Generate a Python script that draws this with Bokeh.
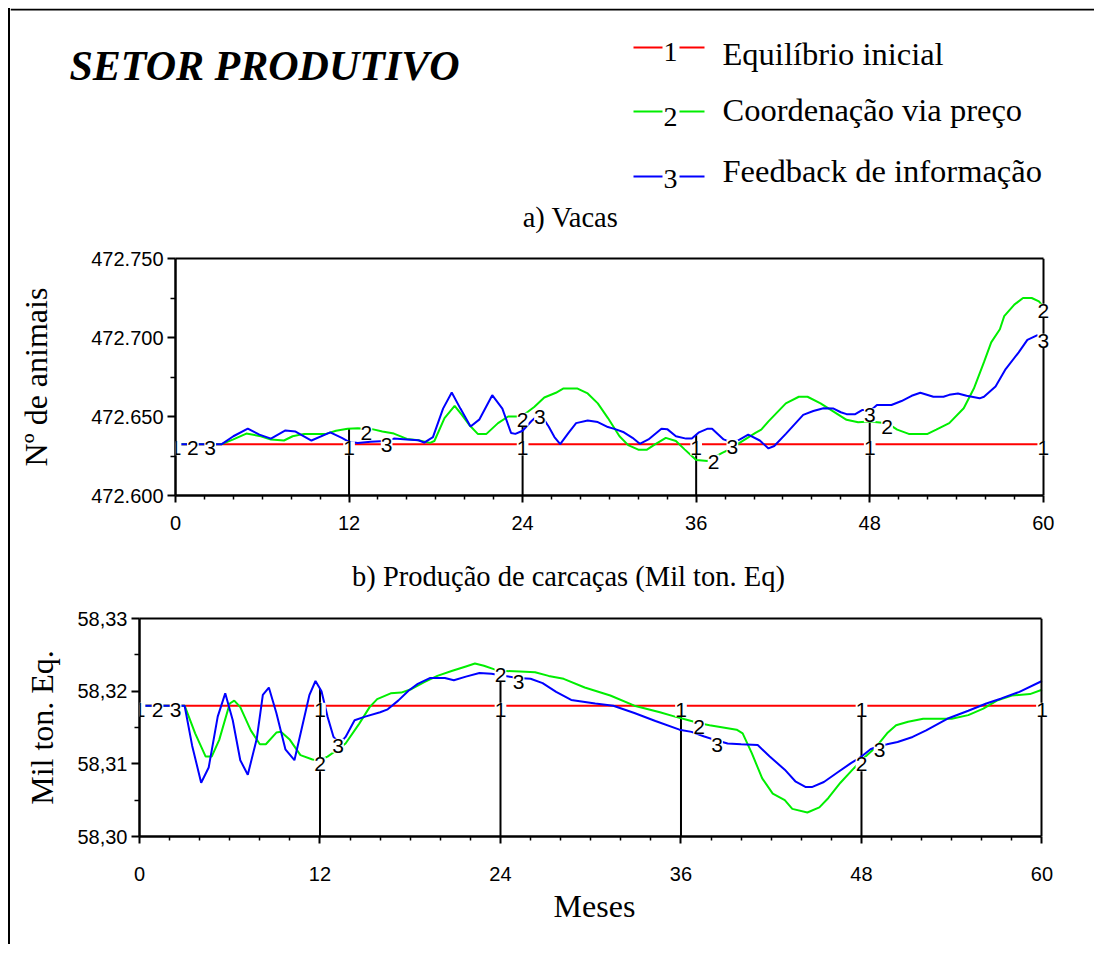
import numpy as np
from bokeh.plotting import figure
from bokeh.models import Range1d, FixedTicker, CustomJSTickFormatter, ColumnDataSource, LabelSet, LinearAxis
from bokeh.core.properties import value
from bokeh.embed import file_html
from bokeh.resources import INLINE

SERIF = "Liberation Serif"
SANS = "Liberation Sans"
RED, GREEN, BLUE = "#ff0000", "#00ee00", "#0000ff"

# ---------------- data ----------------
x_ticks = [0, 12, 24, 36, 48, 60]
x_minor = [2, 4, 6, 8, 10, 14, 16, 18, 20, 22, 26, 28, 30, 32, 34, 38, 40, 42, 44, 46, 50, 52, 54, 56, 58]
marker_months = [12, 24, 36, 48]

# a) Vacas (Nº de animais)
a_eq_x = [0, 60]
a_eq_y = [472.6325, 472.6325]
a_green_x = [0, 3.2, 4.0, 4.9, 5.9, 6.6, 7.5, 8.1, 8.9, 10.4, 11.1, 11.9, 12.6, 13.2, 13.6, 14.3, 15.1, 16.0,
             16.8, 17.6, 17.9, 18.6, 19.3, 19.8, 20.3, 20.9, 21.5, 22.3, 23.0, 23.6, 24.0, 24.8, 25.5, 26.3,
             26.8, 27.8, 28.5, 29.2, 29.9, 30.7, 31.3, 32.0, 32.6, 33.1, 33.9, 34.6, 35.2, 35.7, 36.0, 36.8,
             37.2, 37.8, 38.6, 39.0, 40.1, 40.5, 41.0, 42.2, 43.1, 43.7, 44.6, 45.5, 46.4, 47.2, 48.0, 49.2,
             49.9, 50.7, 52.0, 52.6, 53.5, 54.5, 55.2, 55.9, 56.4, 57.0, 57.3, 58.0, 58.6, 59.2, 59.7, 60.0]
a_green_y = [472.6325, 472.6325, 472.6355, 472.6392, 472.6375, 472.6354, 472.6348, 472.6375, 472.6390,
             472.6390, 472.6410, 472.6423, 472.6425, 472.6423, 472.6420, 472.6405, 472.6392, 472.6358,
             472.6350, 472.6333, 472.6345, 472.6490, 472.6567, 472.6510, 472.6448, 472.6390, 472.6390,
             472.6458, 472.6500, 472.6500, 472.6505, 472.6560, 472.6620, 472.6650, 472.6677, 472.6677,
             472.6646, 472.6583, 472.6490, 472.6375, 472.6319, 472.6290, 472.6290, 472.6320, 472.6365,
             472.6345, 472.6292, 472.6250, 472.6225, 472.6219, 472.6240, 472.6270, 472.6305, 472.6333,
             472.6396, 472.6417, 472.6469, 472.6583, 472.6625, 472.6625, 472.6583, 472.6531, 472.6479,
             472.6463, 472.6469, 472.6458, 472.6417, 472.6390, 472.6390, 472.6417, 472.6458, 472.6552,
             472.6677, 472.6844, 472.6969, 472.7052, 472.7135, 472.7208, 472.7250, 472.7250, 472.7229,
             472.7195]
a_blue_x = [0, 3.2, 4.0, 5.0, 5.8, 6.6, 7.6, 8.3, 9.4, 10.7, 11.5, 12.0, 12.6, 13.5, 14.5, 15.1, 16.0, 16.8,
            17.2, 17.8, 18.5, 19.1, 19.7, 20.4, 21.0, 21.9, 22.6, 23.2, 23.5, 24.0, 24.6, 25.2, 25.8, 26.2,
            26.6, 27.2, 27.7, 28.5, 29.2, 29.9, 30.4, 31.0, 31.6, 32.1, 32.7, 33.6, 34.0, 34.6, 35.3, 35.7,
            36.2, 36.8, 37.1, 37.9, 38.5, 39.0, 39.6, 40.4, 41.0, 41.4, 42.2, 43.4, 44.1, 44.8, 45.5, 46.0,
            46.4, 47.0, 47.5, 48.0, 48.5, 49.5, 50.2, 50.9, 51.5, 52.4, 53.1, 53.5, 54.1, 54.7, 55.6, 55.9,
            56.7, 57.4, 58.3, 58.9, 59.6, 60.0]
a_blue_y = [472.6325, 472.6325, 472.6375, 472.6423, 472.6385, 472.6360, 472.6412, 472.6405, 472.6348,
            472.6400, 472.6365, 472.6340, 472.6333, 472.6340, 472.6345, 472.6360, 472.6355, 472.6350,
            472.6335, 472.6370, 472.6550, 472.6652, 472.6550, 472.6437, 472.6480, 472.6635, 472.6550,
            472.6396, 472.6390, 472.6410, 472.6470, 472.6520, 472.6437, 472.6370, 472.6325, 472.6400,
            472.6458, 472.6475, 472.6465, 472.6433, 472.6420, 472.6400, 472.6365, 472.6327, 472.6355,
            472.6423, 472.6420, 472.6375, 472.6360, 472.6360, 472.6400, 472.6423, 472.6423, 472.6355,
            472.6335, 472.6354, 472.6385, 472.6348, 472.6298, 472.6313, 472.6390, 472.6510, 472.6535,
            472.6552, 472.6550, 472.6527, 472.6515, 472.6515, 472.6542, 472.6533, 472.6573, 472.6573,
            472.6598, 472.6631, 472.6650, 472.6625, 472.6625, 472.6637, 472.6646, 472.6631, 472.6615,
            472.6625, 472.6690, 472.6800, 472.6906, 472.6985, 472.7015, 472.7005]
a_lab1 = [0, 12, 24, 36, 48, 60]
a_lab2 = [1.2, 13.2, 24.0, 37.2, 49.2, 60]
a_lab3 = [2.4, 14.6, 25.2, 38.5, 48.0, 60]
a_yticks = [472.600, 472.650, 472.700, 472.750]
a_yminor = [472.625, 472.675, 472.725]

# b) Produção de carcaças (Mil ton. Eq)
b_eq_x = [0, 60]
b_eq_y = [58.318, 58.318]
b_green_x = [0, 3.0, 3.7, 4.4, 4.8, 5.3, 6.0, 6.3, 6.7, 7.4, 8.0, 8.4, 9.1, 9.4, 10.0, 10.7, 11.5, 12.0, 12.5,
             13.2, 13.7, 14.6, 15.3, 15.8, 16.7, 17.4, 18.1, 18.9, 19.8, 20.8, 21.7, 22.3, 22.9, 23.6, 24.0,
             25.3, 26.3, 27.2, 28.2, 29.6, 31.3, 32.9, 34.6, 35.6, 36.5, 37.2, 37.9, 38.8, 39.7, 40.1, 40.7,
             41.4, 42.1, 42.9, 43.4, 44.4, 45.2, 45.8, 46.6, 47.5, 48.0, 49.0, 49.7, 50.3, 51.1, 52.1, 54.0,
             55.1, 56.1, 57.0, 58.0, 59.2, 60.0]
b_green_y = [58.3180, 58.3180, 58.3142, 58.3110, 58.3110, 58.3133, 58.3183, 58.3187, 58.3178, 58.3146,
             58.3127, 58.3127, 58.3143, 58.3144, 58.3133, 58.3112, 58.3106, 58.3105, 58.3110, 58.3120,
             58.3128, 58.3155, 58.3178, 58.3189, 58.3197, 58.3198, 58.3203, 58.3212, 58.3221, 58.3228,
             58.3234, 58.3238, 58.3235, 58.3230, 58.3228, 58.3227, 58.3226, 58.3221, 58.3217, 58.3205,
             58.3194, 58.3180, 58.3171, 58.3165, 58.3160, 58.3156, 58.3153, 58.3150, 58.3147, 58.3142,
             58.3115, 58.3080, 58.3059, 58.3050, 58.3038, 58.3033, 58.3040, 58.3053, 58.3074, 58.3094,
             58.3105, 58.3124, 58.3142, 58.3153, 58.3158, 58.3162, 58.3162, 58.3167, 58.3176, 58.3187,
             58.3194, 58.3196, 58.3202]
b_blue_x = [0, 3.0, 3.5, 4.1, 4.6, 5.2, 5.7, 6.2, 6.7, 7.2, 7.8, 8.2, 8.6, 9.1, 9.7, 10.3, 10.8, 11.3, 11.7,
            12.1, 12.5, 12.9, 13.3, 13.7, 14.3, 15.0, 16.0, 16.5, 17.2, 17.9, 18.5, 19.3, 20.3, 20.9, 21.7,
            22.6, 23.4, 24.0, 25.2, 26.0, 26.8, 27.7, 28.7, 30.3, 31.5, 32.9, 34.3, 35.9, 36.7, 37.5, 38.4,
            39.1, 40.0, 41.1, 41.9, 42.9, 43.6, 44.3, 44.7, 45.5, 46.4, 47.3, 48.0, 48.6, 49.2, 49.7, 50.4,
            51.4, 52.3, 53.7, 55.1, 56.3, 57.3, 58.5, 60.0]
b_blue_y = [58.3180, 58.3180, 58.3125, 58.3074, 58.3095, 58.3165, 58.3197, 58.3160, 58.3105, 58.3085,
            58.3135, 58.3195, 58.3205, 58.3170, 58.3120, 58.3105, 58.3150, 58.3195, 58.3214, 58.3200,
            58.3165, 58.3137, 58.3128, 58.3137, 58.3160, 58.3165, 58.3171, 58.3175, 58.3187, 58.3201,
            58.3210, 58.3218, 58.3218, 58.3215, 58.3220, 58.3225, 58.3224, 58.3222, 58.3218, 58.3217,
            58.3211, 58.3199, 58.3188, 58.3183, 58.3180, 58.3170, 58.3159, 58.3147, 58.3144, 58.3138,
            58.3132, 58.3128, 58.3127, 58.3126, 58.3110, 58.3092, 58.3076, 58.3068, 58.3068, 58.3075,
            58.3088, 58.3101, 58.3110, 58.3120, 58.3125, 58.3127, 58.3130, 58.3137, 58.3146, 58.3162,
            58.3173, 58.3183, 58.3190, 58.3199, 58.3214]
b_lab1 = [0, 12, 24, 36, 48, 60]
b_lab2 = [1.2, 12.0, 24.0, 37.2, 48.0]
b_lab3 = [2.4, 13.2, 25.2, 38.4, 49.2]
b_yticks = [58.30, 58.31, 58.32, 58.33]
b_yminor = [58.305, 58.315, 58.325]

W = 1086
PAD = 0.5  # months of room on the right so the end labels are not cut
PAGE_STYLE = {"margin-left": "8px", "border-left": "2px solid black"}


def style_axis(ax):
    ax.axis_line_width = 2.5
    ax.major_tick_line_width = 2
    ax.minor_tick_line_width = 1.5
    ax.major_tick_in = 0
    ax.minor_tick_in = 0
    ax.major_label_text_font = SANS
    ax.major_label_text_font_size = "20px"
    ax.major_label_text_color = "black"
    ax.axis_label_text_font = SERIF
    ax.axis_label_text_font_style = "normal"
    ax.axis_label_text_font_size = "32px"
    ax.axis_label_text_color = "black"


def plain_axis(**kw):
    return LinearAxis(ticker=FixedTicker(ticks=[]), axis_line_width=2, major_tick_line_color=None,
                      minor_tick_line_color=None, major_label_text_font_size="0px", **kw)


def panel(height, left, frame_w, top, bottom, yr, yticks, yminor, fmt, ylabel, ylab_standoff,
          eq, green, blue, labs, xlab_standoff, xlabel=None):
    p = figure(width=W, height=height, x_range=Range1d(0, 60 + PAD), y_range=Range1d(*yr),
               toolbar_location=None, output_backend="svg", x_axis_location=None, y_axis_location=None,
               min_border_left=left, min_border_right=W - left - frame_w,
               min_border_top=top, min_border_bottom=bottom, styles=PAGE_STYLE)
    p.grid.visible = False
    p.outline_line_color = None

    xa = LinearAxis(ticker=FixedTicker(ticks=x_ticks, minor_ticks=x_minor), bounds=(0, 60))
    ya = LinearAxis(ticker=FixedTicker(ticks=yticks, minor_ticks=yminor),
                    formatter=CustomJSTickFormatter(code=fmt))
    for ax in (xa, ya):
        style_axis(ax)
    ya.major_tick_out = 8
    ya.minor_tick_out = 5
    ya.major_label_standoff = 4
    ya.axis_label = ylabel
    ya.axis_label_standoff = ylab_standoff
    xa.major_tick_out = 7
    xa.minor_tick_out = 4
    xa.major_label_standoff = xlab_standoff
    if xlabel:
        xa.axis_label = xlabel
        xa.axis_label_standoff = 4
    p.add_layout(xa, "below")
    p.add_layout(ya, "left")
    p.add_layout(plain_axis(bounds=(0, 60)), "above")
    p.add_layout(plain_axis(fixed_location=60), "right")

    series = [eq, green, blue]
    # vertical marker lines from the axis up to the highest curve value
    tops = np.max([np.interp(marker_months, sx, sy) for sx, sy in series], axis=0)
    p.segment(x0=marker_months, y0=[yr[0]] * len(marker_months), x1=marker_months, y1=list(tops),
              line_color="black", line_width=2)

    for (sx, sy), col in zip(series, [RED, GREEN, BLUE]):
        p.line(sx, sy, line_color=col, line_width=2)

    for (sx, sy), lab, num in zip(series, labs, ["1", "2", "3"]):
        src = ColumnDataSource(dict(x=lab, y=list(np.interp(lab, sx, sy)), t=[num] * len(lab)))
        p.add_layout(LabelSet(x="x", y="y", text="t", source=src, text_font=value(SANS),
                              text_font_size="21px", text_align="center", text_baseline="middle",
                              y_offset=-4, background_fill_color="white", text_color="black"))
    return p


# header (local coords: x = page x - 10, y = page y - 8)
h1 = figure(width=W, height=232, x_range=Range1d(0, W), y_range=Range1d(232, 0),
            toolbar_location=None, output_backend="svg", x_axis_type=None, y_axis_type=None,
            min_border=0, styles=dict(PAGE_STYLE, **{"margin-top": "8px"}))
h1.grid.visible = False
h1.outline_line_color = None
h1.segment(x0=[0], y0=[1], x1=[W], y1=[1], line_color="black", line_width=2)
h1.text(x=[59], y=[57], text=["SETOR PRODUTIVO"], text_font=value(SERIF), text_font_size="42px",
        text_font_style="bold italic", text_align="left", text_baseline="middle")
leg_names = ["Equilíbrio inicial", "Coordenação via preço", "Feedback de informação"]
leg_nums = ["1", "2", "3"]
leg_cols = [RED, GREEN, BLUE]
leg_line_y = [39, 103, 168]
leg_num_y = [43, 108, 170]
leg_text_y = [45, 101, 162]
for name, num, col, ly, ny, ty in zip(leg_names, leg_nums, leg_cols, leg_line_y, leg_num_y, leg_text_y):
    h1.segment(x0=[623, 669], y0=[ly, ly], x1=[652, 694], y1=[ly, ly], line_color=col, line_width=2)
    h1.text(x=[660], y=[ny], text=[num], text_font=value(SERIF), text_font_size="28px",
            text_align="center", text_baseline="middle")
    h1.text(x=[712], y=[ty], text=[name], text_font=value(SERIF), text_font_size="32.5px",
            text_align="left", text_baseline="middle")
h1.text(x=[560], y=[209], text=["a) Vacas"], text_font=value(SERIF), text_font_size="28.5px",
        text_align="center", text_baseline="middle")

pa = panel(312, 165, 875, 18, 57, (472.600, 472.750), a_yticks, a_yminor, "return tick.toFixed(3);",
           "Nº de animais", 34, (a_eq_x, a_eq_y), (a_green_x, a_green_y), (a_blue_x, a_blue_y),
           [a_lab1, a_lab2, a_lab3], 13)

h2 = figure(width=W, height=48, x_range=Range1d(0, W), y_range=Range1d(48, 0),
            toolbar_location=None, output_backend="svg", x_axis_type=None, y_axis_type=None,
            min_border=0, styles=PAGE_STYLE)
h2.grid.visible = False
h2.outline_line_color = None
h2.text(x=[558], y=[24], text=["b) Produção de carcaças (Mil ton. Eq)"], text_font=value(SERIF),
        text_font_size="28.5px", text_align="center", text_baseline="middle")

pb = panel(344, 129, 910, 18, 108, (58.30, 58.33), b_yticks, b_yminor,
           "return tick.toFixed(2).replace('.', ',');",
           "Mil ton. Eq.", 14, (b_eq_x, b_eq_y), (b_green_x, b_green_y), (b_blue_x, b_blue_y),
           [b_lab1, b_lab2, b_lab3], 23, xlabel="Meses")

open("out.html", "w").write(file_html([h1, pa, h2, pb], INLINE))
